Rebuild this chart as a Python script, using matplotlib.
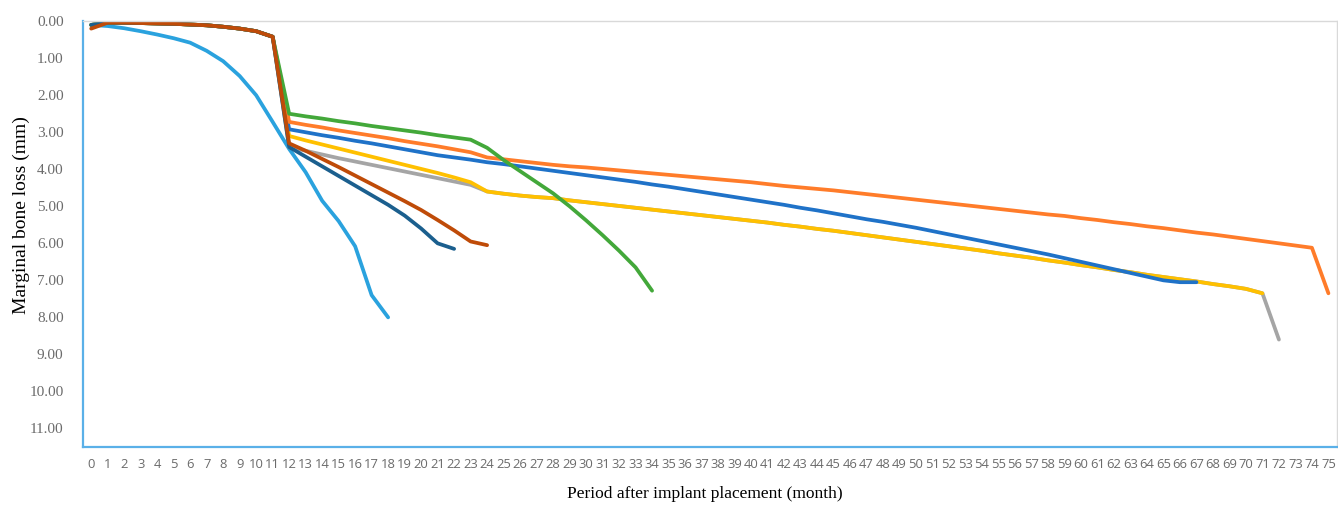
import matplotlib
matplotlib.use("Agg")
import matplotlib.pyplot as plt
import numpy as np

months = list(range(0, 76))

# Shared early course (months 0-11) for the implant groups
early = [0.10, 0.04, 0.04, 0.05, 0.06, 0.07, 0.09, 0.11, 0.15, 0.20, 0.27, 0.42]

light_blue = [0.10, 0.13, 0.19, 0.27, 0.36, 0.46, 0.58, 0.80, 1.08, 1.48, 2.00, 2.72,
              3.45, 4.08, 4.85, 5.40, 6.08, 7.40, 8.00]

dark_teal = early + [3.40, 3.66, 3.92, 4.18, 4.44, 4.70, 4.96, 5.25, 5.60, 6.00, 6.15]

brown = [0.20] + early[1:] + [3.30, 3.50, 3.72, 3.94, 4.17, 4.40, 4.63, 4.86, 5.10,
                              5.37, 5.65, 5.95, 6.05]

green = early + [2.50, 2.57, 2.63, 2.70, 2.76, 2.83, 2.89, 2.95, 3.01, 3.08, 3.14, 3.20,
                 3.42, 3.75, 4.05, 4.35, 4.65, 5.00, 5.38, 5.78, 6.20, 6.65, 7.28]

late_common = [4.60, 4.66, 4.71, 4.75, 4.78, 4.84, 4.89, 4.94, 4.99, 5.04, 5.09, 5.14,
               5.19, 5.24, 5.29, 5.34, 5.39, 5.44, 5.50, 5.55, 5.61, 5.66, 5.72, 5.78,
               5.84, 5.90, 5.96, 6.02, 6.08, 6.14, 6.20, 6.27, 6.33, 6.39, 6.46, 6.52,
               6.59, 6.65, 6.72, 6.78, 6.85, 6.91, 6.97, 7.03, 7.10, 7.16, 7.23, 7.35]

gray = early + [3.40, 3.50, 3.60, 3.70, 3.79, 3.88, 3.97, 4.06, 4.15, 4.24, 4.33, 4.42] \
    + late_common + [8.60]

yellow = early + [3.10, 3.22, 3.33, 3.44, 3.55, 3.66, 3.77, 3.88, 3.99, 4.10, 4.22, 4.35] \
    + late_common

blue = early + [2.92, 3.00, 3.08, 3.15, 3.23, 3.30, 3.38, 3.46, 3.54, 3.62, 3.68, 3.74,
                3.81, 3.86, 3.92, 3.98, 4.04, 4.10, 4.16, 4.22, 4.28, 4.34, 4.41, 4.47,
                4.54, 4.61, 4.68, 4.75, 4.82, 4.89, 4.96, 5.04, 5.11, 5.19, 5.27, 5.35,
                5.42, 5.50, 5.58, 5.67, 5.76, 5.85, 5.94, 6.03, 6.12, 6.21, 6.30, 6.40,
                6.50, 6.60, 6.70, 6.80, 6.90, 7.00, 7.05, 7.05]

orange = early + [2.72, 2.80, 2.87, 2.95, 3.02, 3.09, 3.16, 3.24, 3.31, 3.38, 3.46, 3.54,
                  3.68, 3.73, 3.78, 3.83, 3.88, 3.92, 3.95, 3.99, 4.03, 4.07, 4.11, 4.15,
                  4.19, 4.23, 4.27, 4.31, 4.35, 4.40, 4.45, 4.49, 4.53, 4.57, 4.62, 4.67,
                  4.72, 4.77, 4.82, 4.87, 4.92, 4.97, 5.02, 5.07, 5.12, 5.17, 5.22, 5.26,
                  5.32, 5.37, 5.43, 5.48, 5.54, 5.59, 5.65, 5.71, 5.76, 5.82, 5.88, 5.94,
                  6.00, 6.06, 6.12, 7.35]

# drawing order: later series sit on top
series = [
    (light_blue, "#2AA2DE"),
    (gray, "#A5A5A5"),
    (yellow, "#FFC000"),
    (blue, "#1F72C8"),
    (orange, "#FF7C2A"),
    (green, "#43A83A"),
    (dark_teal, "#1B5F8E"),
    (brown, "#BF4B08"),
]

fig = plt.figure(figsize=(13.38, 5.05), dpi=100)
ax = fig.add_axes([0.062, 0.115, 0.937, 0.843])

for vals, col in series:
    ax.plot(months[:len(vals)], vals, color=col, lw=2.7, solid_joinstyle="round",
            solid_capstyle="round")

ax.set_xlim(-0.5, 75.5)
ax.set_ylim(11.5, 0)
ax.set_xticks(months)
ax.set_xticklabels([str(m) for m in months], fontsize=9.4, color="#6B6B6B",
                   family="Open Sans")
yt = np.arange(0, 12, 1.0)
ax.set_yticks(yt)
ax.set_yticklabels([f"{v:.2f}" for v in yt], fontsize=11, color="#6B6B6B",
                   family="Liberation Serif")
ax.tick_params(length=0)
ax.tick_params(axis="x", pad=8)
ax.tick_params(axis="y", pad=14)

for side in ("left", "bottom"):
    ax.spines[side].set_color("#5AB0E8")
    ax.spines[side].set_linewidth(1.6)
for side in ("top", "right"):
    ax.spines[side].set_color("#D9D9D9")
    ax.spines[side].set_linewidth(1.0)

ax.set_ylabel("Marginal bone loss (mm)", fontsize=14, family="Liberation Serif")
ax.yaxis.set_label_coords(-0.042, 0.545)
ax.set_xlabel("Period after implant placement (month)", fontsize=12.5,
              family="Liberation Serif")
ax.xaxis.set_label_coords(0.496, -0.092)

fig.savefig("out.png", dpi=100)
